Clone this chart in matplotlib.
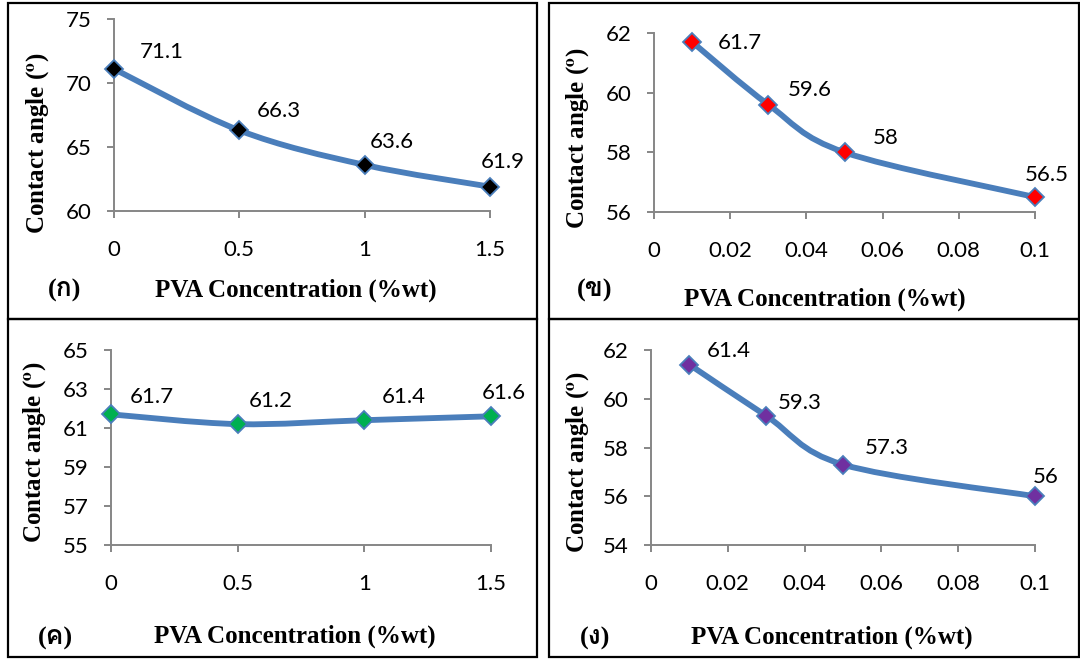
import numpy as np
import matplotlib
matplotlib.use('Agg')
import matplotlib.pyplot as plt
from matplotlib.path import Path
import matplotlib.patches as pt
from matplotlib import font_manager as fm
from matplotlib.ft2font import FT2Font
from matplotlib.ticker import FuncFormatter

# data
conc_a = [0, 0.5, 1, 1.5]
angle_a = [71.1, 66.3, 63.6, 61.9]
conc_b = [0.01, 0.03, 0.05, 0.1]
angle_b = [61.7, 59.6, 58, 56.5]
conc_c = [0, 0.5, 1, 1.5]
angle_c = [61.7, 61.2, 61.4, 61.6]
conc_d = [0.01, 0.03, 0.05, 0.1]
angle_d = [61.4, 59.3, 57.3, 56]

panel_letters = ['(ก)', '(ข)', '(ค)', '(ง)']
x_title = 'PVA Concentration (%wt)'
y_title = r'Contact angle ($^{\mathbf{o}}$)'

W, H = 1080, 659
LINE = '#4A7EBB'
AXC = '#868686'

# look for any installed font that has Thai glyphs
thai_font = None
for f in fm.fontManager.ttflist:
    try:
        if 0x0E01 in FT2Font(f.fname).get_charmap():
            thai_font = f.name
            break
    except Exception:
        pass
letter_family = ['Liberation Serif'] + ([thai_font] if thai_font else []) + ['DejaVu Sans']

plt.rcParams['mathtext.fontset'] = 'stix'


def fx(px):
    return px / W


def fy(py):
    return 1 - py / H


def smooth_path(ax, xs, ys):
    # excel style smoothed line, built in screen space
    pts = ax.transData.transform(np.column_stack([xs, ys]))
    n = len(pts)
    verts = [pts[0]]
    codes = [Path.MOVETO]
    for i in range(n - 1):
        p0 = pts[max(i - 1, 0)]
        p1 = pts[i]
        p2 = pts[i + 1]
        p3 = pts[min(i + 2, n - 1)]
        verts += [p1 + (p2 - p0) / 6, p2 - (p3 - p1) / 6, p2]
        codes += [Path.CURVE4] * 3
    verts = ax.transData.inverted().transform(np.array(verts))
    return Path(verts, codes)


fig = plt.figure(figsize=(W / 100, H / 100), dpi=100)

# panel frames
frames = [(8, 3, 537, 319), (549, 3, 1079, 319), (8, 319, 537, 657), (549, 319, 1079, 657)]
for x0, y0, x1, y1 in frames:
    fig.add_artist(pt.Rectangle((fx(x0), fy(y1)), fx(x1 - x0), (y1 - y0) / H,
                                fill=False, ec='black', lw=1.6, transform=fig.transFigure))

panels = [
    dict(x=conc_a, y=angle_a, color='black', box=(114, 19, 490, 211), xlim=(0, 1.5), xstep=0.5,
         ylim=(60, 75), ystep=5, offs=[(48, -17), (39, -19), (27, -23), (13, -25)],
         ylab=(38, 143), xlab=(296, 290), let=(65, 290)),
    dict(x=conc_b, y=angle_b, color='#FF0000', box=(654, 33, 1035, 212), xlim=(0, 0.1), xstep=0.02,
         ylim=(56, 62), ystep=2, offs=[(48, 1), (41, -15), (41, -14), (12, -22)],
         ylab=(578, 138), xlab=(825, 299), let=(595, 290)),
    dict(x=conc_c, y=angle_c, color='#00B050', box=(111, 350, 491, 545), xlim=(0, 1.5), xstep=0.5,
         ylim=(55, 65), ystep=2, offs=[(41, -17), (33, -23), (39, -23), (13, -23)],
         ylab=(35, 452), xlab=(295, 636), let=(55, 638)),
    dict(x=conc_d, y=angle_d, color='#7030A0', box=(651, 350, 1035, 545), xlim=(0, 0.1), xstep=0.02,
         ylim=(54, 62), ystep=2, offs=[(39, -14), (34, -13), (44, -17), (11, -19)],
         ylab=(578, 462), xlab=(832, 637), let=(595, 638)),
]

for p, letter in zip(panels, panel_letters):
    l, t, r, b = p['box']
    ax = fig.add_axes([fx(l), fy(b), (r - l) / W, (b - t) / H])
    ax.set_xlim(p['xlim'])
    ax.set_ylim(p['ylim'])
    ax.set_xticks(np.arange(p['xlim'][0], p['xlim'][1] + p['xstep'] / 2, p['xstep']))
    ax.set_yticks(np.arange(p['ylim'][0], p['ylim'][1] + p['ystep'] / 2, p['ystep']))
    ax.xaxis.set_major_formatter(FuncFormatter(lambda v, pos: '%g' % round(v, 3)))
    ax.yaxis.set_major_formatter(FuncFormatter(lambda v, pos: '%g' % round(v, 3)))
    for s in ['top', 'right']:
        ax.spines[s].set_visible(False)
    for s in ['left', 'bottom']:
        ax.spines[s].set_color(AXC)
        ax.spines[s].set_linewidth(1.4)
    ax.tick_params(axis='x', length=5, width=1.4, color=AXC, pad=16, labelsize=16)
    ax.tick_params(axis='y', length=5, width=1.4, color=AXC, pad=11, labelsize=16)
    for lab in ax.get_xticklabels() + ax.get_yticklabels():
        lab.set_fontfamily('Lato')
    ax.patch.set_alpha(0)

    ax.add_patch(pt.PathPatch(smooth_path(ax, p['x'], p['y']), fill=False, ec=LINE,
                              lw=4.2, capstyle='round', joinstyle='round', clip_on=False, zorder=3))
    ax.plot(p['x'], p['y'], ls='none', marker='D', ms=9, mfc=p['color'], mec=LINE,
            mew=1.3, clip_on=False, zorder=4)
    for xv, yv, (ox, oy) in zip(p['x'], p['y'], p['offs']):
        ax.annotate('%g' % yv, (xv, yv), xytext=(ox * 0.72, -oy * 0.72), textcoords='offset points',
                    ha='center', va='center', fontsize=16, family='Lato', annotation_clip=False)

    fig.text(fx(p['ylab'][0]), fy(p['ylab'][1]), y_title, rotation=90, ha='center', va='center',
             fontsize=18, fontweight='bold', family='Liberation Serif')
    fig.text(fx(p['xlab'][0]), fy(p['xlab'][1]), x_title, ha='center', va='center',
             fontsize=18, fontweight='bold', family='Liberation Serif')
    fig.text(fx(p['let'][0]), fy(p['let'][1]), letter, ha='center', va='center',
             fontsize=19, fontweight='bold', family=letter_family)

fig.savefig('out.png', dpi=100, facecolor='white')
